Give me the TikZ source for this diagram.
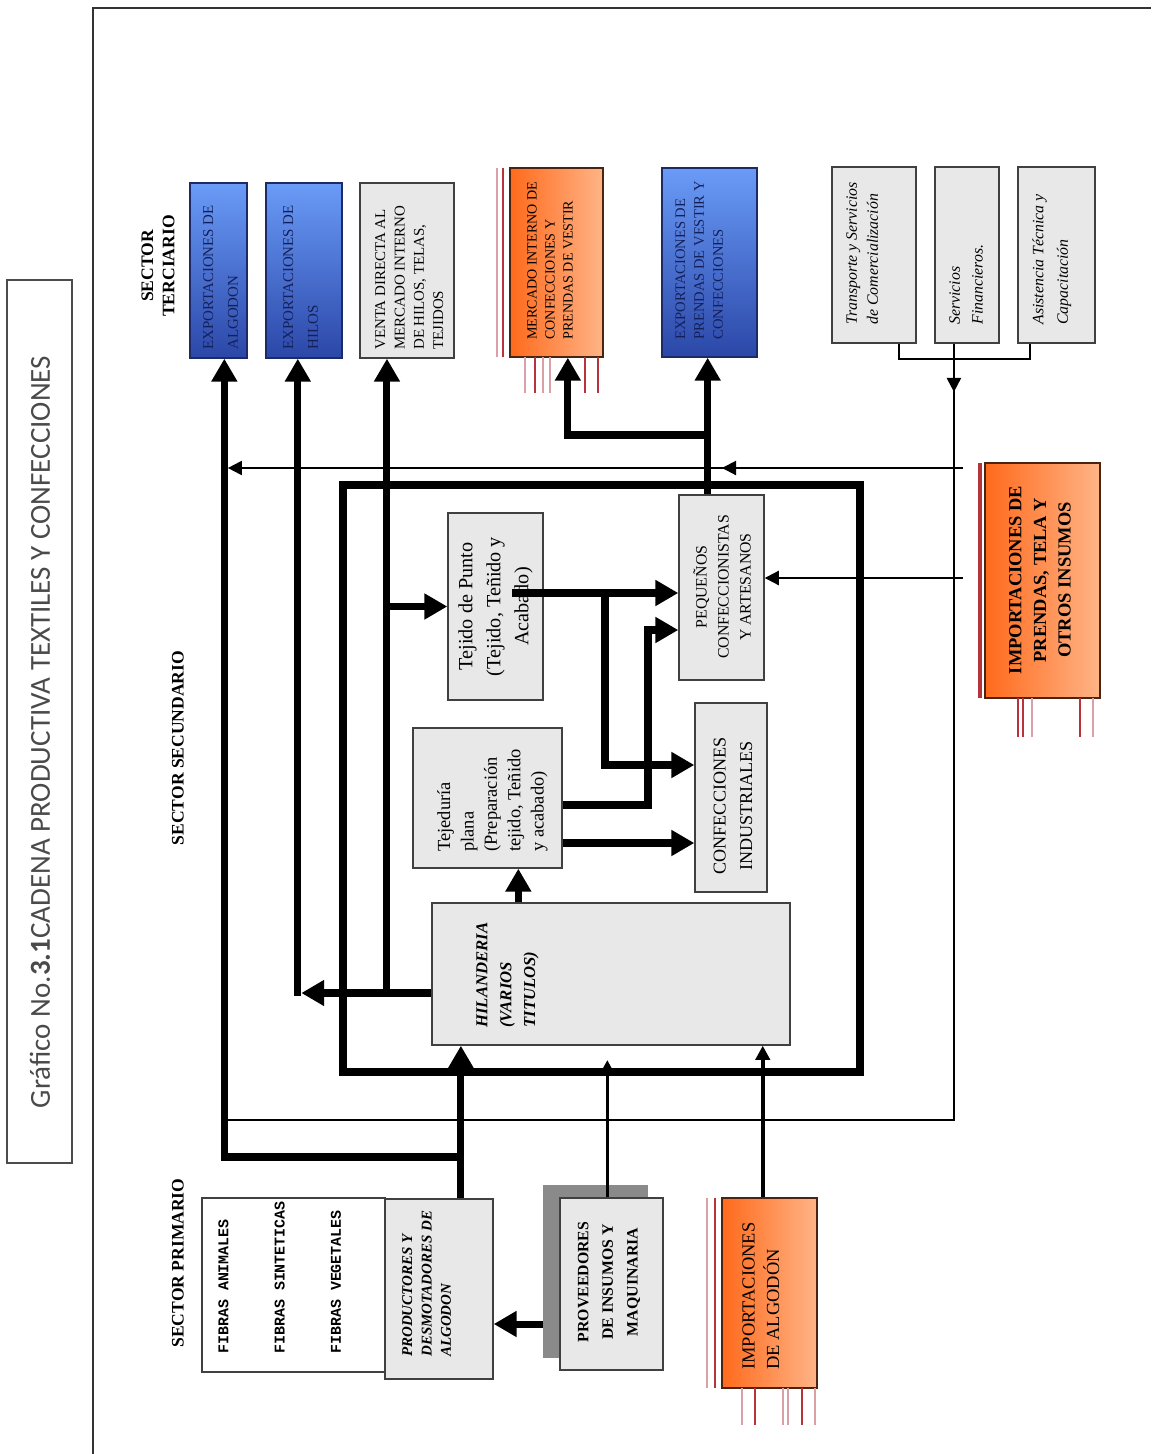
\documentclass[tikz,border=0pt]{standalone}
\usepackage{fontspec}
\setmainfont{Liberation Serif}
\newfontfamily\titlefont{Carlito}
\newfontfamily\fibfont{Liberation Mono}
\usepackage{xcolor}
\usetikzlibrary{arrows.meta,fit,calc}

\definecolor{boxgray}{HTML}{E8E8E8}
\definecolor{shadowgray}{HTML}{8A8A8A}
\definecolor{blueA}{HTML}{6A9BF7}
\definecolor{blueB}{HTML}{2B47A8}
\definecolor{blueedge}{HTML}{1C2A66}
\definecolor{bluetext}{HTML}{14205A}
\definecolor{orangeA}{HTML}{FF6A1C}
\definecolor{orangeB}{HTML}{FFB487}
\definecolor{orangeedge}{HTML}{4A2410}
\definecolor{decored}{HTML}{B8323C}
\definecolor{decopink}{HTML}{D9A0A8}
\definecolor{titlegray}{HTML}{4A4A4A}

\newcommand{\fs}[2]{\fontsize{#1}{#2}\selectfont}

\begin{document}
\begin{tikzpicture}[x=0.2mm, y=-0.2mm,
    box/.style={draw=black!75, line width=0.8pt, inner sep=0pt},
    grey box/.style={box, fill=boxgray},
    blue box/.style={box, draw=blueedge, top color=blueA, bottom color=blueB},
    orange box/.style={box, draw=orangeedge, left color=orangeA, right color=orangeB},
    vtext/.style={rotate=90, anchor=north west, align=left, inner sep=0pt},
    ctext/.style={rotate=90, align=center, inner sep=0pt},
    fat/.style={line width=4pt, -{Triangle[length=13pt,width=14pt]}},
    med/.style={line width=2pt, -{Triangle[length=8pt,width=8pt]}},
    slim/.style={line width=1.2pt},
    slim arrow/.style={slim, -{Triangle[length=8pt,width=8pt]}},
    redline/.style={draw=decored, line width=1.6pt},
    pinkline/.style={draw=decopink, line width=1pt}]
    \useasboundingbox (0,0) rectangle (1151,1454);

    % Title
    \node[box, draw=black!70, fit={(7,280) (72,1163)}] (title-box) {};
    \node[ctext, font=\titlefont\fs{16.5}{20}, text=titlegray] (title) at (40,732)
        {Gráfico No.\textbf{3.1}CADENA PRODUCTIVA TEXTILES Y CONFECCIONES};
    \draw[line width=1pt, black!80] (93,1454) -- (93,8) -- (1151,8);

    % Sector labels
    \node[ctext, font=\bfseries\fs{10}{12}] (terciario-label) at (158,266) {SECTOR\\TERCIARIO};
    \node[ctext, font=\bfseries\fs{10}{12}] (secundario-label) at (178,748) {SECTOR SECUNDARIO};
    \node[ctext, font=\bfseries\fs{10}{12}] (primario-label) at (178,1263) {SECTOR PRIMARIO};

    % Sector terciario
    \node[blue box, fit={(190,183) (247,358)}] (exp-algodon) {};
    \node[vtext, font=\fs{8.5}{14}, text=bluetext] (exp-algodon-t) at (203,350) {EXPORTACIONES DE\\ALGODON};
    \node[blue box, fit={(266,183) (342,358)}] (exp-hilos) {};
    \node[vtext, font=\fs{8.5}{14}, text=bluetext] (exp-hilos-t) at (283,350) {EXPORTACIONES DE\\HILOS};
    \node[grey box, fit={(360,183) (454,358)}] (venta) {};
    \node[vtext, font=\fs{8.5}{11}] (venta-t) at (375,350) {VENTA DIRECTA AL\\MERCADO INTERNO\\DE HILOS, TELAS,\\TEJIDOS};
    \node[orange box, fit={(510,168) (603,357)}] (mercado) {};
    \node[vtext, font=\fs{8}{10.2}] (mercado-t) at (527,340) {MERCADO INTERNO DE\\CONFECCIONES Y\\PRENDAS DE VESTIR};
    \node[blue box, fit={(662,168) (757,357)}] (exp-prendas) {};
    \node[vtext, font=\fs{8.3}{10.8}, text=bluetext] (exp-prendas-t) at (675,340) {EXPORTACIONES DE\\PRENDAS DE VESTIR Y\\CONFECCIONES};
    \node[grey box, fit={(832,167) (916,343)}] (transporte) {};
    \node[vtext, font=\itshape\fs{9}{12}] (transporte-t) at (846,325) {Transporte y Servicios\\de Comercialización};
    \node[grey box, fit={(935,167) (999,343)}] (servicios) {};
    \node[vtext, font=\itshape\fs{9}{13}] (servicios-t) at (949,325) {Servicios\\Financieros.};
    \node[grey box, fit={(1018,167) (1095,343)}] (asistencia) {};
    \node[vtext, font=\itshape\fs{9}{14}] (asistencia-t) at (1032,325) {Asistencia Técnica y\\Capacitación};

    % Red strokes of the orange boxes
    \draw[pinkline] (497,168) -- (497,357);
    \draw[redline] (503,168) -- (503,357);
    \foreach \x in {525,543,550} \draw[pinkline] (\x,357) -- (\x,393);
    \foreach \x in {535,585,598} \draw[redline] (\x,357) -- (\x,393);

    % Importaciones de prendas
    \node[orange box, fit={(985,463) (1100,698)}] (imp-prendas) {};
    \node[ctext, font=\bfseries\fs{10.5}{14}] (imp-prendas-t) at (1040,580) {IMPORTACIONES DE\\PRENDAS, TELA Y\\OTROS INSUMOS};
    \draw[redline, line width=2pt] (980,463) -- (980,698);
    \foreach \x in {1018,1023,1080} \draw[redline] (\x,698) -- (\x,737);
    \foreach \x in {1032,1093} \draw[pinkline] (\x,698) -- (\x,737);

    % Sector secundario
    \node[draw, line width=4pt, inner sep=0pt, outer sep=0pt, fit={(343,485) (860,1072)}] (secundario) {};
    \node[grey box, fit={(448,513) (543,700)}] (tejido-punto) {};
    \node[ctext, font=\fs{11.5}{16}] (tejido-punto-t) at (tejido-punto.center) {Tejido de Punto\\(Tejido, Teñido y\\Acabado)};
    \node[grey box, fit={(413,728) (562,868)}] (tejeduria) {};
    \node[vtext, font=\fs{10.5}{13.3}] (tejeduria-t) at (437,852) {Tejeduría\\plana\\(Preparación\\tejido, Teñido\\y acabado)};
    \node[grey box, fit={(432,903) (790,1045)}] (hilanderia) {};
    \node[vtext, font=\bfseries\itshape\fs{9.5}{13.6}] (hilanderia-t) at (476,1028) {HILANDERIA\\(VARIOS\\TITULOS)};
    \node[grey box, fit={(679,495) (764,680)}] (pequenos) {};
    \node[ctext, font=\fs{9}{12.5}] (pequenos-t) at (722,587) {PEQUEÑOS\\CONFECCIONISTAS\\Y ARTESANOS};
    \node[grey box, fit={(695,703) (767,892)}] (confind) {};
    \node[ctext, font=\fs{10.3}{15}] (confind-t) at (733,806) {CONFECCIONES\\INDUSTRIALES};

    % Sector primario
    \node[box, fill=white, fit={(202,1198) (385,1372)}] (fibras) {};
    \node[vtext, font=\fibfont\bfseries\fs{8.5}{32}] (fibras-t) at (218,1354) {FIBRAS ANIMALES\\FIBRAS SINTETICAS\\FIBRAS VEGETALES};
    \node[grey box, fit={(385,1199) (493,1379)}] (productores) {};
    \node[vtext, font=\bfseries\itshape\fs{8.5}{11}] (productores-t) at (402,1357) {PRODUCTORES Y\\DESMOTADORES DE\\ALGODON};
    \node[fill=shadowgray, inner sep=0pt, fit={(543,1185) (648,1358)}] (prov-shadow) {};
    \node[grey box, fit={(560,1198) (663,1370)}] (proveedores) {};
    \node[ctext, font=\bfseries\fs{9}{14}] (proveedores-t) at (609,1282) {PROVEEDORES\\DE INSUMOS Y\\MAQUINARIA};
    \node[orange box, fit={(722,1198) (817,1388)}] (imp-algodon) {};
    \node[vtext, font=\fs{10.5}{14}] (imp-algodon-t) at (742,1370) {IMPORTACIONES\\DE ALGODÓN};
    \draw[pinkline] (707,1198) -- (707,1388);
    \draw[redline] (715,1198) -- (715,1388);
    \foreach \x in {742,783,788,815} \draw[pinkline] (\x,1388) -- (\x,1425);
    \foreach \x in {755,802} \draw[redline] (\x,1388) -- (\x,1425);

    % Primario -> hilanderia and exportaciones de algodon
    \coordinate (prod-out) at ($(productores.north west)!.7!(productores.north east)$);
    \coordinate (alg-in) at ($(exp-algodon.south west)!.6!(exp-algodon.south east)$);
    \draw[fat] (prod-out) -- (prod-out |- hilanderia.south);
    \draw[fat] (prod-out |- 0,1157) -| (alg-in);
    \draw[fat] (prov-shadow.west |- 0,1324) -- (productores.east |- 0,1324);

    % Proveedores and imported cotton
    \coordinate (prov-out) at ($(proveedores.north west)!.46!(proveedores.north east)$);
    \coordinate (imp-out) at ($(imp-algodon.north west)!.43!(imp-algodon.north east)$);
    \draw[med, shorten >=-2.4mm] (prov-out) -- (prov-out |- secundario.south);
    \draw[med] (imp-out) -- (imp-out |- hilanderia.south);

    % Services
    \coordinate (tr-out) at ($(transporte.south west)!.79!(transporte.south east)$);
    \coordinate (as-out) at ($(asistencia.south west)!.16!(asistencia.south east)$);
    \coordinate (sv-out) at ($(servicios.south west)!.3!(servicios.south east)$);
    \draw[slim] (tr-out) -- ++(0,15) -| (as-out);
    \draw[slim] (sv-out) |- (alg-in |- 0,1120);
    \draw[slim arrow] (sv-out) -- (sv-out |- 0,392);

    % Imports of garments
    \coordinate (imp-a) at (963,468);
    \coordinate (imp-b) at (963,578);
    \draw[slim arrow, shorten >=2pt] (imp-a) -- (imp-a -| alg-in);
    \draw[slim arrow] (imp-a) -- (722,468);
    \draw[slim arrow] (imp-b) -- (imp-b -| pequenos.east);

    % Hilanderia -> hilos, venta, tejidos
    \coordinate (hil-out) at (hilanderia.west |- 0,993);
    \coordinate (hil-in) at ($(exp-hilos.south west)!.42!(exp-hilos.south east)$);
    \coordinate (ven-in) at ($(venta.south west)!.29!(venta.south east)$);
    \coordinate (pl-in) at ($(tejeduria.south west)!.705!(tejeduria.south east)$);
    \draw[fat, shorten >=2pt] (hil-out) -- (hil-in |- hil-out);
    \draw[fat] (hil-in |- 0,996) -- (hil-in);
    \draw[fat] (ven-in |- hil-out) -- (ven-in);
    \draw[fat] (ven-in |- tejido-punto.west) -- (tejido-punto.west);
    \draw[fat] (pl-in |- hilanderia.north) -- (pl-in);

    % Tejidos -> confecciones
    \coordinate (pun-out) at (512,593);
    \coordinate (pun-split) at (605,593);
    \draw[fat] (pun-out) -- (pun-out -| pequenos.west);
    \draw[fat] (pun-split) |- (confind.west |- 0,765);
    \draw[fat] (tejeduria.east |- 0,805) -| (648,630) -- (pequenos.west |- 0,630);
    \draw[fat] (tejeduria.east |- 0,843) -- (confind.west |- 0,843);

    % Pequenos -> mercado and exportaciones
    \coordinate (peq-out) at ($(pequenos.north west)!.34!(pequenos.north east)$);
    \coordinate (mer-in) at ($(mercado.south west)!.62!(mercado.south east)$);
    \draw[fat] (peq-out) -- (peq-out |- exp-prendas.south);
    \draw[fat] (peq-out |- 0,435) -| (mer-in);
\end{tikzpicture}
\end{document}
